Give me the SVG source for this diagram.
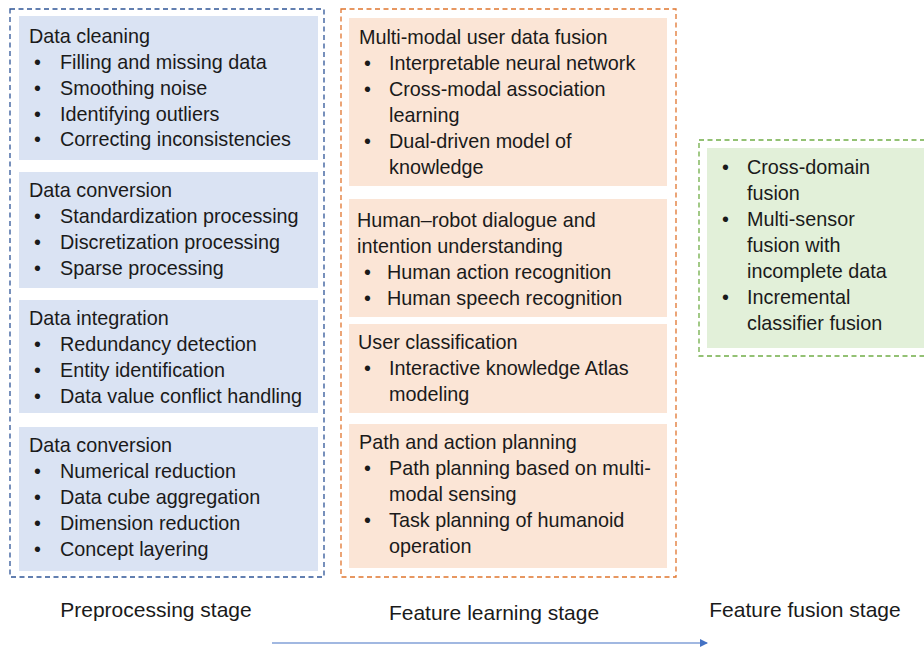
<svg xmlns="http://www.w3.org/2000/svg" width="924" height="648" viewBox="0 0 924 648">
<defs>
<marker id="ah" markerWidth="8" markerHeight="8" refX="7" refY="4" orient="auto" markerUnits="userSpaceOnUse">
<path d="M0,0 L8,4 L0,8 Z" fill="#4472C4"/>
</marker>
<style>
text{font-family:"Liberation Sans",Arial,sans-serif;font-size:19.8px;fill:#1a1a1a}
.stage{font-size:21px}
.bfill{fill:#DAE3F3}
.ofill{fill:#FBE5D6}
.gfill{fill:#E2F0D9}
.bdash{fill:none;stroke:#2F5597;stroke-width:1.3;stroke-dasharray:5,3.5}
.odash{fill:none;stroke:#E0752E;stroke-width:1.3;stroke-dasharray:5,3.5}
.gdash{fill:none;stroke:#70AD47;stroke-width:1.3;stroke-dasharray:5,3.5}
</style>
</defs>
<rect width="924" height="648" fill="#ffffff"/>

<g id="preprocessing-group">
<rect class="bdash" x="10" y="9" width="314" height="568"/>
</g>
<g id="data-cleaning">
<rect class="bfill" x="19" y="16" width="299" height="144"/>
<text x="29" y="43">Data cleaning</text>
<text x="34" y="69">•</text><text x="60" y="69">Filling and missing data</text>
<text x="34" y="95">•</text><text x="60" y="95">Smoothing noise</text>
<text x="34" y="121">•</text><text x="60" y="121">Identifying outliers</text>
<text x="34" y="146">•</text><text x="60" y="146">Correcting inconsistencies</text>
</g>
<g id="data-conversion-1">
<rect class="bfill" x="19" y="172" width="299" height="116"/>
<text x="29" y="197">Data conversion</text>
<text x="34" y="223">•</text><text x="60" y="223">Standardization processing</text>
<text x="34" y="249">•</text><text x="60" y="249">Discretization processing</text>
<text x="34" y="275">•</text><text x="60" y="275">Sparse processing</text>
</g>
<g id="data-integration">
<rect class="bfill" x="19" y="300" width="299" height="113"/>
<text x="29" y="325">Data integration</text>
<text x="34" y="351">•</text><text x="60" y="351">Redundancy detection</text>
<text x="34" y="377">•</text><text x="60" y="377">Entity identification</text>
<text x="34" y="403">•</text><text x="60" y="403">Data value conflict handling</text>
</g>
<g id="data-conversion-2">
<rect class="bfill" x="19" y="427" width="299" height="144"/>
<text x="29" y="452">Data conversion</text>
<text x="34" y="478">•</text><text x="60" y="478">Numerical reduction</text>
<text x="34" y="504">•</text><text x="60" y="504">Data cube aggregation</text>
<text x="34" y="530">•</text><text x="60" y="530">Dimension reduction</text>
<text x="34" y="556">•</text><text x="60" y="556">Concept layering</text>
</g>

<g id="feature-learning-group">
<rect class="odash" x="341" y="9" width="335" height="568"/>
</g>
<g id="multimodal-fusion">
<rect class="ofill" x="349" y="18" width="318" height="168"/>
<text x="359" y="44">Multi-modal user data fusion</text>
<text x="364" y="70">•</text><text x="389" y="70">Interpretable neural network</text>
<text x="364" y="96">•</text><text x="389" y="96">Cross-modal association</text>
<text x="389" y="122">learning</text>
<text x="364" y="148">•</text><text x="389" y="148">Dual-driven model of</text>
<text x="389" y="174">knowledge</text>
</g>
<g id="dialogue">
<rect class="ofill" x="349" y="199" width="318" height="118"/>
<text x="357" y="227">Human–robot dialogue and</text>
<text x="357" y="253">intention understanding</text>
<text x="364" y="279">•</text><text x="387" y="279">Human action recognition</text>
<text x="364" y="305">•</text><text x="387" y="305">Human speech recognition</text>
</g>
<g id="user-classification">
<rect class="ofill" x="349" y="324" width="318" height="89"/>
<text x="358" y="349">User classification</text>
<text x="364" y="375">•</text><text x="389" y="375">Interactive knowledge Atlas</text>
<text x="389" y="401">modeling</text>
</g>
<g id="path-planning">
<rect class="ofill" x="349" y="424" width="318" height="144"/>
<text x="359" y="449">Path and action planning</text>
<text x="364" y="475">•</text><text x="389" y="475">Path planning based on multi-</text>
<text x="389" y="501">modal sensing</text>
<text x="364" y="527">•</text><text x="389" y="527">Task planning of humanoid</text>
<text x="389" y="553">operation</text>
</g>

<g id="feature-fusion-group">
<rect class="gdash" x="699" y="140" width="230" height="216"/>
</g>
<g id="feature-fusion">
<rect class="gfill" x="707" y="148" width="217" height="200"/>
<text x="722" y="174">•</text><text x="747" y="174">Cross-domain</text>
<text x="747" y="200">fusion</text>
<text x="722" y="226">•</text><text x="747" y="226">Multi-sensor</text>
<text x="747" y="252">fusion with</text>
<text x="747" y="278">incomplete data</text>
<text x="722" y="304">•</text><text x="747" y="304">Incremental</text>
<text x="747" y="330">classifier fusion</text>
</g>

<g id="stage-labels">
<text class="stage" x="156" y="617" text-anchor="middle">Preprocessing stage</text>
<text class="stage" x="494" y="620" text-anchor="middle">Feature learning stage</text>
<text class="stage" x="805" y="617" text-anchor="middle">Feature fusion stage</text>
</g>

<g id="connectors">
<line x1="272" y1="643" x2="707" y2="643" stroke="#4472C4" stroke-width="1.2" marker-end="url(#ah)"/>
</g>
</svg>
